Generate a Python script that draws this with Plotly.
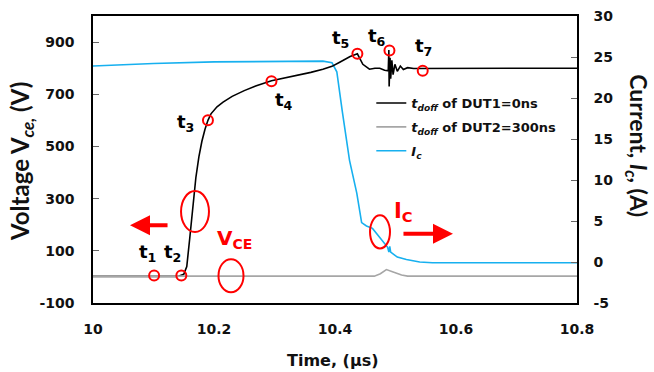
import plotly.graph_objects as go

# ---- data ----
t_dut1 = [10.000, 10.140, 10.150, 10.155, 10.160, 10.165, 10.170, 10.175, 10.180, 10.185,
          10.190, 10.195, 10.205, 10.215, 10.230, 10.250, 10.270, 10.295, 10.320, 10.341,
          10.360, 10.380, 10.395, 10.407, 10.425, 10.437, 10.446,
          10.457, 10.466, 10.474, 10.482, 10.488, 10.489, 10.4895, 10.491, 10.492, 10.494,
          10.496, 10.499, 10.503, 10.508, 10.513, 10.520, 10.530, 10.800]
v_dut1 = [2, 2, 10, 40, 150, 280, 380, 460, 520, 565,
          600, 625, 652, 670, 692, 714, 733, 752, 764, 774,
          784, 796, 807, 822, 845, 855, 815,
          796, 800, 800, 792, 790, 870, 730, 840, 760, 830,
          775, 815, 788, 808, 795, 802, 799, 800]

t_dut2 = [10.000, 10.465, 10.475, 10.485, 10.495, 10.510, 10.520, 10.800]
v_dut2 = [3, 3, 12, 28, 20, 7, 3, 3]

t_ic = [10.000, 10.100, 10.200, 10.300, 10.380, 10.395, 10.403, 10.412, 10.424, 10.436,
        10.444, 10.452, 10.462, 10.474, 10.487, 10.489, 10.4905, 10.492, 10.503, 10.518,
        10.540, 10.561, 10.800]
i_c = [23.9, 24.2, 24.4, 24.5, 24.5, 24.3, 23.2, 18.4, 12.4, 8.4,
       4.8, 4.4, 4.1, 3.0, 1.8, 1.2, 1.9, 1.2, 0.6, 0.3,
       0.0, -0.1, -0.1]

t_marks = [10.101, 10.146, 10.190, 10.295, 10.437, 10.490, 10.545]
v_marks = [5, 5, 600, 750, 855, 868, 790]
mark_labels = ["t<sub>1</sub>", "t<sub>2</sub>", "t<sub>3</sub>", "t<sub>4</sub>",
               "t<sub>5</sub>", "t<sub>6</sub>", "t<sub>7</sub>"]
label_t = [10.0893, 10.1322, 10.1537, 10.3157, 10.4083, 10.4694, 10.5455]
label_v = [90, 90, 590, 675, 910, 918, 881]

x_ticks = [10, 10.2, 10.4, 10.6, 10.8]
x_tick_text = ["10", "10.2", "10.4", "10.6", "10.8"]
v_ticks = [-100, 100, 300, 500, 700, 900]
v_tick_text = ["-100", "100", "300", "500", "700", "900"]
i_ticks = [-5, 0, 5, 10, 15, 20, 25, 30]
i_tick_text = ["-5", "0", "5", "10", "15", "20", "25", "30"]

FONT = "DejaVu Sans"
RED = "#ff0000"

fig = go.Figure()

fig.add_trace(go.Scatter(x=t_ic, y=i_c, yaxis="y", mode="lines",
                         line=dict(color="#17b0ef", width=1.6),
                         name="<i>I</i><sub><i>c</i></sub>", legendgroup="c", legendrank=3))
fig.add_trace(go.Scatter(x=t_dut1, y=v_dut1, yaxis="y2", mode="lines",
                         line=dict(color="black", width=1.6),
                         name="<i>t</i><sub><i>doff</i></sub> of DUT1=0ns", legendgroup="a", legendrank=1))
fig.add_trace(go.Scatter(x=t_dut2, y=v_dut2, yaxis="y2", mode="lines",
                         line=dict(color="#a6a6a6", width=1.6),
                         name="<i>t</i><sub><i>doff</i></sub> of DUT2=300ns", legendgroup="b", legendrank=2))
fig.add_trace(go.Scatter(x=t_marks, y=v_marks, yaxis="y2", mode="markers",
                         marker=dict(symbol="circle-open", size=10, color=RED,
                                     line=dict(color=RED, width=2)),
                         showlegend=False, hoverinfo="skip"))

annotations = []
for tx, vy, txt in zip(label_t, label_v, mark_labels):
    annotations.append(dict(x=tx, y=vy, xref="x", yref="y2", text=txt, showarrow=False,
                            font=dict(family=FONT, size=18, color="black", weight="bold")))

annotations += [
    dict(x=10.2331, y=146, xref="x", yref="y2", text="V<sub>CE</sub>", showarrow=False,
         font=dict(family=FONT, size=20, color=RED, weight="bold")),
    dict(x=10.5124, y=247, xref="x", yref="y2", text="I<sub>C</sub>", showarrow=False,
         font=dict(family=FONT, size=21, color=RED, weight="bold")),
    dict(x=10.0612, y=198, xref="x", yref="y2", text="", showarrow=True, ax=39, ay=0,
         arrowhead=2, arrowsize=1, arrowwidth=4, arrowcolor=RED),
    dict(x=10.595, y=165, xref="x", yref="y2", text="", showarrow=True, ax=-51, ay=0,
         arrowhead=2, arrowsize=1, arrowwidth=4, arrowcolor=RED),
    dict(x=-0.1467, y=0.495, xref="paper", yref="paper", text="Voltage V<sub><i>ce,</i></sub> (V)",
         showarrow=False, textangle=-90, xanchor="center", yanchor="middle",
         font=dict(family="Lato", size=24, color="#111111", weight="bold")),
    dict(x=1.126, y=0.546, xref="paper", yref="paper", text="Current, <i>I</i><sub><i>c</i></sub>, (A)",
         showarrow=False, textangle=90, xanchor="center", yanchor="middle",
         font=dict(family="Lato", size=23, color="#111111", weight="bold")),
    dict(x=0.496, y=-0.2, xref="paper", yref="paper", text="Time, (μs)", showarrow=False,
         xanchor="center", yanchor="middle",
         font=dict(family=FONT, size=16, color="#111111", weight="bold")),
]

shapes = [
    dict(type="circle", xref="x", yref="y2", x0=10.1455, x1=10.1917, y0=172, y1=329,
         line=dict(color=RED, width=2)),
    dict(type="circle", xref="x", yref="y2", x0=10.2074, x1=10.2488, y0=-59, y1=68,
         line=dict(color=RED, width=2)),
    dict(type="circle", xref="x", yref="y2", x0=10.4579, x1=10.4909, y0=109, y1=236,
         line=dict(color=RED, width=2)),
]

tickfont = dict(family=FONT, size=14, color="#111111", weight="bold")

fig.update_layout(
    width=654, height=372,
    margin=dict(l=93, r=77, t=8, b=69),
    paper_bgcolor="white", plot_bgcolor="white",
    showlegend=True,
    legend=dict(x=0.575, y=0.749, xanchor="left", yanchor="top",
                bgcolor="rgba(0,0,0,0)", tracegroupgap=4,
                font=dict(family=FONT, size=13, color="#111111", weight="bold")),
    xaxis=dict(range=[10, 10.8], tickvals=x_ticks, ticktext=x_tick_text,
               showline=True, mirror=True, linecolor="black", linewidth=1.5,
               ticks="", showgrid=False, zeroline=False, tickfont=tickfont,
               ticklabelstandoff=12),
    yaxis=dict(range=[-5, 30], tickvals=i_ticks, ticktext=i_tick_text, side="right",
               showline=True, linecolor="black", linewidth=1.5,
               ticks="inside", ticklen=6, tickcolor="#666666",
               showgrid=False, zeroline=False, tickfont=tickfont, ticklabelstandoff=12),
    yaxis2=dict(range=[-100, 1000], tickvals=v_ticks, ticktext=v_tick_text, side="left",
                overlaying="y",
                showline=True, linecolor="black", linewidth=1.5,
                ticks="inside", ticklen=6, tickcolor="#666666",
                showgrid=False, zeroline=False, tickfont=tickfont, ticklabelstandoff=14),
    annotations=annotations,
    shapes=shapes,
)

fig.write_html("out.html")
